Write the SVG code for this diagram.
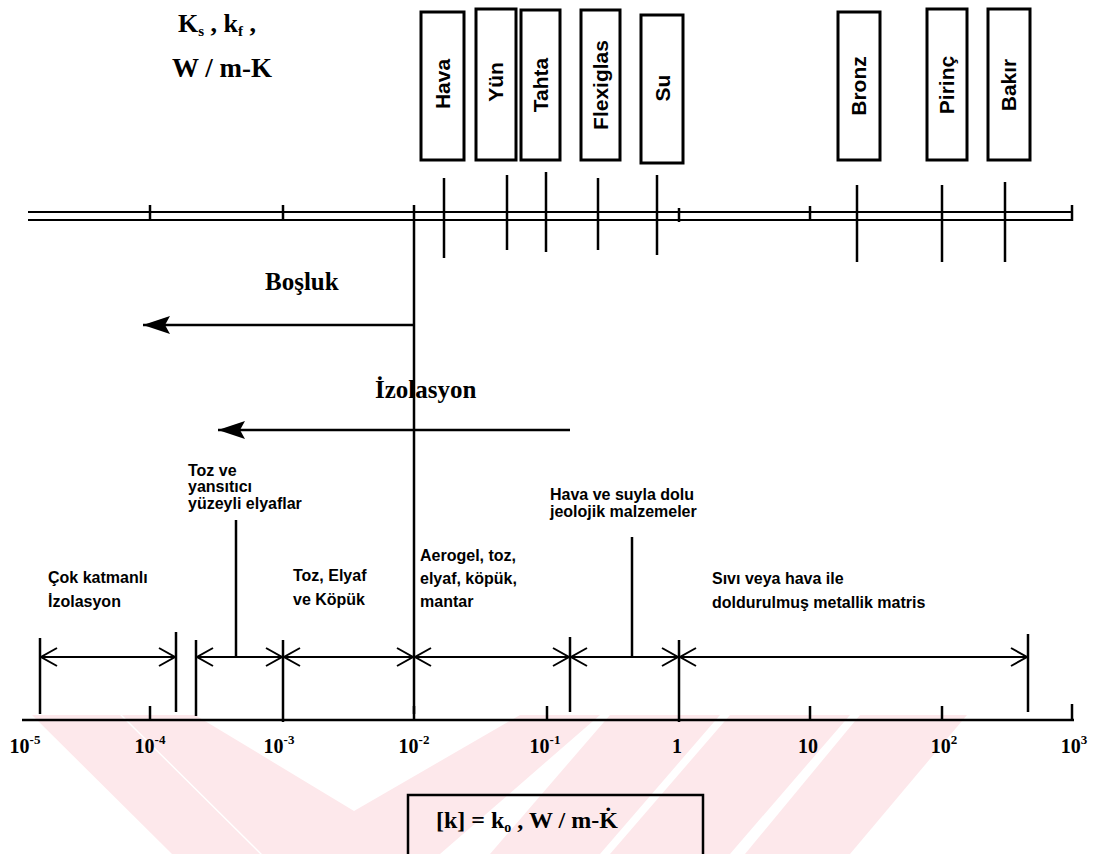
<svg xmlns="http://www.w3.org/2000/svg" width="1100" height="854" viewBox="0 0 1100 854">
<style>
.ser{font-family:"Liberation Serif","Times New Roman",serif;font-weight:bold;fill:#000}
.box{fill:#fff;stroke:#000;stroke-width:3}
.ln{stroke:#000;stroke-width:2.5;fill:none}
.thin{stroke:#000;stroke-width:2;fill:none}
.mat{font-family:"Liberation Sans",Arial,sans-serif;font-weight:bold;font-size:21px;fill:#000}
.lab{font-family:"Liberation Sans",Arial,sans-serif;font-weight:bold;font-size:16px;fill:#000}
.ax{font-family:"Liberation Serif","Times New Roman",serif;font-weight:bold;font-size:20px;fill:#000}
.wm{fill:#fde8eb}
</style>
<defs>
<marker id="hf" markerWidth="28" markerHeight="20" refX="27" refY="9" orient="auto" markerUnits="userSpaceOnUse"><path d="M27,9 L0,0 L5,9 L0,18 Z" fill="#000"/></marker>
</defs>
<rect width="1100" height="854" fill="#fff"/>
<!-- watermark -->
<g id="watermark">
<polygon class="wm" points="32,715 120,715 260,854 172,854"/>
<polygon class="wm" points="122,715 195,715 354,811 354,854 262,854"/>
<polygon class="wm" points="354,811 520,715 600,715 440,854 354,854"/>
<polygon class="wm" points="610,715 720,715 600,854 490,854"/>
<polygon class="wm" points="730,715 850,715 730,854 610,854"/>
<polygon class="wm" points="860,715 967,715 850,854 745,854"/>
</g>
<!-- top title -->
<g id="title">
<text class="ser" x="178" y="32" font-size="26">K<tspan font-size="15" dy="4">s</tspan><tspan dy="-4"> , k</tspan><tspan font-size="15" dy="4">f</tspan><tspan dy="-4"> ,</tspan></text>
<text class="ser" x="172" y="77" font-size="27">W / m-K</text>
</g>
<!-- material boxes -->
<g id="m-hava"><rect class="box" x="421" y="12" width="43" height="148"/><text class="mat" transform="translate(450,84) rotate(-90)" text-anchor="middle">Hava</text></g>
<g id="m-yun"><rect class="box" x="476" y="9" width="40" height="151"/><text class="mat" transform="translate(503,82) rotate(-90)" text-anchor="middle">Yün</text></g>
<g id="m-tahta"><rect class="box" x="521" y="10" width="39" height="150"/><text class="mat" transform="translate(548,85) rotate(-90)" text-anchor="middle">Tahta</text></g>
<g id="m-flex"><rect class="box" x="581" y="10" width="39" height="150"/><text class="mat" transform="translate(608,85) rotate(-90)" text-anchor="middle">Flexiglas</text></g>
<g id="m-su"><rect class="box" x="641" y="15" width="42" height="148"/><text class="mat" transform="translate(670,88) rotate(-90)" text-anchor="middle">Su</text></g>
<g id="m-bronz"><rect class="box" x="838" y="12" width="42" height="148"/><text class="mat" transform="translate(866,86) rotate(-90)" text-anchor="middle">Bronz</text></g>
<g id="m-pirinc"><rect class="box" x="927" y="9" width="40" height="151"/><text class="mat" transform="translate(954,85) rotate(-90)" text-anchor="middle">Pirinç</text></g>
<g id="m-bakir"><rect class="box" x="988" y="9" width="42" height="151"/><text class="mat" transform="translate(1016,85) rotate(-90)" text-anchor="middle">Bakır</text></g>
<!-- upper axis -->
<g id="upper-axis">
<line class="thin" x1="28" y1="212" x2="1072" y2="212"/>
<line class="thin" x1="28" y1="220" x2="1072" y2="220"/>
<line class="ln" x1="150" y1="205" x2="150" y2="221"/>
<line class="ln" x1="283" y1="205" x2="283" y2="221"/>
<line class="ln" x1="679" y1="208" x2="679" y2="222"/>
<line class="ln" x1="810" y1="206" x2="810" y2="221"/>
<line class="ln" x1="1072" y1="205" x2="1072" y2="221"/>
</g>
<!-- connectors -->
<g id="connectors">
<g style="stroke-width:3">
<line class="ln" x1="444" y1="178" x2="444" y2="258"/>
<line class="ln" x1="507" y1="175" x2="507" y2="250"/>
<line class="ln" x1="546" y1="172" x2="546" y2="252"/>
<line class="ln" x1="598" y1="178" x2="598" y2="250"/>
<line class="ln" x1="657" y1="175" x2="657" y2="255"/>
<line class="ln" x1="857" y1="185" x2="857" y2="262"/>
<line class="ln" x1="942" y1="185" x2="942" y2="262"/>
<line class="ln" x1="1005" y1="182" x2="1005" y2="262"/>
</g>
<line class="ln" x1="414" y1="205" x2="414" y2="714"/>
<line class="ln" x1="414" y1="325" x2="143" y2="325" marker-end="url(#hf)"/>
<line class="ln" x1="570" y1="430" x2="218" y2="430" marker-end="url(#hf)"/>
<line class="ln" x1="236" y1="520" x2="236" y2="657"/>
<line class="ln" x1="632" y1="537" x2="632" y2="657"/>
<!-- extension lines -->
<line class="ln" x1="40" y1="638" x2="40" y2="714"/>
<line class="ln" x1="176" y1="632" x2="176" y2="712"/>
<line class="ln" x1="196" y1="640" x2="196" y2="716"/>
<line class="ln" x1="283" y1="640" x2="283" y2="722"/>
<line class="ln" x1="570" y1="637" x2="570" y2="712"/>
<line class="ln" x1="679" y1="640" x2="679" y2="722"/>
<line class="ln" x1="1028" y1="634" x2="1028" y2="712"/>
<!-- dimension lines -->
<g class="thin">
<line x1="40" y1="657" x2="176" y2="657"/>
<line x1="196" y1="657" x2="283" y2="657"/>
<line x1="283" y1="657" x2="414" y2="657"/>
<line x1="414" y1="657" x2="570" y2="657"/>
<line x1="570" y1="657" x2="679" y2="657"/>
<line x1="679" y1="657" x2="1028" y2="657"/>
<path d="M57,648 L41,657 L57,666 M159,648 L175,657 L159,666"/>
<path d="M213,648 L197,657 L213,666 M266,648 L282,657 L266,666"/>
<path d="M300,648 L284,657 L300,666 M397,648 L413,657 L397,666"/>
<path d="M431,648 L415,657 L431,666 M553,648 L569,657 L553,666"/>
<path d="M587,648 L571,657 L587,666 M662,648 L678,657 L662,666"/>
<path d="M696,648 L680,657 L696,666 M1011,648 L1027,657 L1011,666"/>
</g>
</g>
<!-- range labels -->
<g id="bosluk"><text class="ser" x="265" y="290" font-size="25">Boşluk</text></g>
<g id="izolasyon"><text class="ser" x="375" y="398" font-size="25">İzolasyon</text></g>
<g id="r-toz-ve"><text class="lab" x="188" y="476">Toz ve</text><text class="lab" x="188" y="492" font-size="12">yansıtıcı</text><text class="lab" x="188" y="509" font-size="12">yüzeyli elyaflar</text></g>
<g id="r-cok"><text class="lab" x="48" y="583">Çok katmanlı</text><text class="lab" x="48" y="607">İzolasyon</text></g>
<g id="r-toz-elyaf"><text class="lab" x="293" y="581">Toz, Elyaf</text><text class="lab" x="293" y="605">ve Köpük</text></g>
<g id="r-aerogel"><text class="lab" x="420" y="561">Aerogel, toz,</text><text class="lab" x="420" y="584">elyaf, köpük,</text><text class="lab" x="420" y="607">mantar</text></g>
<g id="r-hava-su"><text class="lab" x="550" y="500">Hava ve suyla dolu</text><text class="lab" x="550" y="517" font-size="11">jeolojik malzemeler</text></g>
<g id="r-sivi"><text class="lab" x="712" y="584">Sıvı veya hava ile</text><text class="lab" x="712" y="608">doldurulmuş metallik matris</text></g>
<!-- lower axis -->
<g id="lower-axis">
<line class="ln" x1="22" y1="720" x2="1074" y2="720"/>
<line class="ln" x1="150" y1="706" x2="150" y2="720"/>
<line class="ln" x1="414" y1="706" x2="414" y2="720"/>
<line class="ln" x1="547" y1="706" x2="547" y2="720"/>
<line class="ln" x1="810" y1="706" x2="810" y2="720"/>
<line class="ln" x1="942" y1="706" x2="942" y2="720"/>
<line class="ln" x1="1072" y1="704" x2="1072" y2="720"/>
<text class="ax" x="25" y="753" text-anchor="middle">10<tspan font-size="13" dy="-9">-5</tspan></text>
<text class="ax" x="150" y="753" text-anchor="middle">10<tspan font-size="13" dy="-9">-4</tspan></text>
<text class="ax" x="279" y="753" text-anchor="middle">10<tspan font-size="13" dy="-9">-3</tspan></text>
<text class="ax" x="414" y="753" text-anchor="middle">10<tspan font-size="13" dy="-9">-2</tspan></text>
<text class="ax" x="545" y="753" text-anchor="middle">10<tspan font-size="13" dy="-9">-1</tspan></text>
<text class="ax" x="677" y="753" text-anchor="middle">1</text>
<text class="ax" x="808" y="753" text-anchor="middle">10</text>
<text class="ax" x="944" y="753" text-anchor="middle">10<tspan font-size="13" dy="-9">2</tspan></text>
<text class="ax" x="1074" y="753" text-anchor="middle">10<tspan font-size="13" dy="-9">3</tspan></text>
</g>
<!-- unit box -->
<g id="unit-box">
<path d="M408,854 V795 H703 V854" class="ln"/>
<text class="ser" x="436" y="828" font-size="24">[k] = k<tspan font-size="14" dy="4">o</tspan><tspan dy="-4"> , W / m-K̇</tspan></text>
</g>
</svg>
